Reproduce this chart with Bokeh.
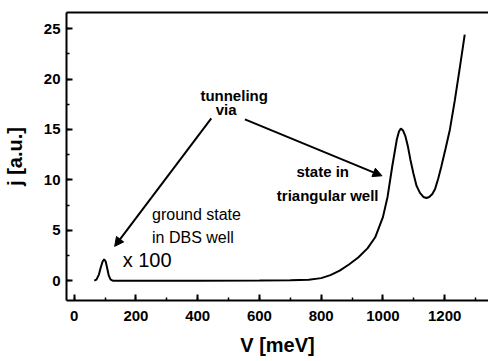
from bokeh.plotting import figure
from bokeh.models import (Range1d, Label, Arrow, NormalHead, LinearAxis,
                          SingleIntervalTicker)
from bokeh.embed import file_html
from bokeh.resources import INLINE

# ---- data ----
V = [65, 72, 80, 86, 92, 97, 102, 107, 112, 118, 125, 200, 400, 600, 700, 760,
     800, 830, 860, 890, 920, 950, 975, 1000, 1015, 1030, 1045, 1052, 1058, 1065,
     1073, 1081, 1089, 1099, 1109, 1120, 1131, 1141, 1150, 1160, 1169, 1179, 1189,
     1203, 1217, 1233, 1249, 1265]
j = [0.0, 0.1, 0.6, 1.3, 1.9, 2.1, 1.9, 1.2, 0.5, 0.1, 0.0, 0.0, 0.0, 0.02, 0.05,
     0.1, 0.25, 0.55, 1.0, 1.6, 2.3, 3.2, 4.3, 6.3, 8.3, 11.3, 14.0, 14.8, 15.1, 14.9,
     14.3, 13.3, 12.0, 10.6, 9.4, 8.7, 8.3, 8.2, 8.3, 8.6, 9.1, 10.1, 11.3,
     13.1, 15.0, 17.9, 21.1, 24.4]

x_tick_step = 200
y_tick_step = 5

FONT = "Liberation Sans"
Y_MIN, Y_MAX = -1.97, 26.6

p = figure(width=488, height=358, output_backend="svg", toolbar_location=None,
           x_range=Range1d(-25, 1342), y_range=Range1d(Y_MIN, Y_MAX),
           x_axis_label="V [meV]", y_axis_label="j [a.u.]")
p.min_border_left = 60
p.min_border_right = 0
p.min_border_top = 12
p.min_border_bottom = 56
p.outline_line_color = None
p.grid.visible = False
p.background_fill_color = None
p.border_fill_color = None

for ax in (p.xaxis[0], p.yaxis[0]):
    ax.axis_line_width = 2
    ax.axis_line_color = "black"
    ax.major_tick_in = 6
    ax.major_tick_out = 0
    ax.minor_tick_in = 3
    ax.minor_tick_out = 0
    ax.major_tick_line_width = 2
    ax.minor_tick_line_width = 1.5
    ax.major_tick_line_color = "black"
    ax.minor_tick_line_color = "black"
    ax.major_label_text_font = FONT
    ax.major_label_text_font_style = "bold"
    ax.major_label_text_font_size = "15px"
    ax.major_label_text_color = "black"
    ax.axis_label_text_font = FONT
    ax.axis_label_text_font_style = "bold"
    ax.axis_label_text_font_size = "20px"
    ax.axis_label_text_color = "black"

p.xaxis.ticker = SingleIntervalTicker(interval=x_tick_step, num_minor_ticks=2)
p.yaxis.ticker = SingleIntervalTicker(interval=y_tick_step, num_minor_ticks=2)
p.xaxis.major_label_standoff = 10
p.xaxis.axis_label_standoff = 10
p.yaxis.major_label_standoff = 6
p.yaxis.axis_label_standoff = 15

# top frame line: an axis above with no ticks or labels shown
top = LinearAxis(ticker=SingleIntervalTicker(interval=x_tick_step, num_minor_ticks=2),
                 axis_line_width=2, axis_line_color="black",
                 major_tick_in=0, major_tick_out=0, minor_tick_in=0, minor_tick_out=0,
                 major_label_text_font_size="1px", major_label_text_color=None,
                 major_label_standoff=0)
p.add_layout(top, "above")

p.line(V, j, line_color="black", line_width=2)

def lab(x, y, t, size="15px", style="bold", align="center"):
    p.add_layout(Label(x=x, y=y, text=t, text_align=align, text_baseline="middle",
                       text_font=FONT, text_font_style=style, text_font_size=size,
                       text_color="black"))

lab(518, 18.4, "tunneling")
lab(492, 17.0, "via")
lab(805, 10.8, "state in")
lab(821, 8.4, "triangular well")
lab(252, 6.6, "ground state", size="16px", style="normal", align="left")
lab(252, 4.3, "in DBS well", size="16px", style="normal", align="left")
lab(157, 2.0, "x 100", size="20px", style="normal", align="left")

p.add_layout(Arrow(x_start=444, y_start=16.1, x_end=131, y_end=3.4,
                   line_width=2, line_color="black",
                   end=NormalHead(size=9, fill_color="black", line_color="black")))
p.add_layout(Arrow(x_start=553, y_start=16.0, x_end=997, y_end=10.4,
                   line_width=2, line_color="black",
                   end=NormalHead(size=9, fill_color="black", line_color="black")))

open("out.html", "w").write(file_html(p, INLINE))
